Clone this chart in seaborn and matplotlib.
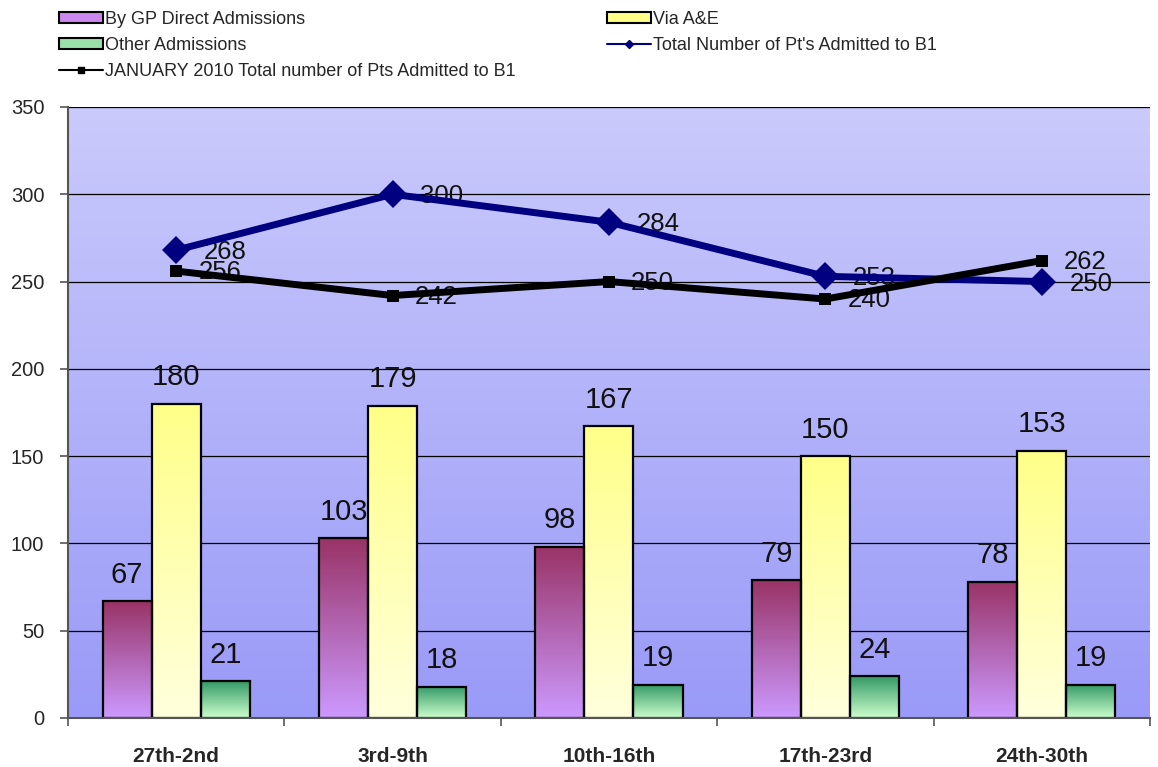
import numpy as np
import pandas as pd
import seaborn as sns
import matplotlib.pyplot as plt
from matplotlib.colors import LinearSegmentedColormap
from matplotlib.patches import Patch
from matplotlib.lines import Line2D

weeks = ["27th-2nd", "3rd-9th", "10th-16th", "17th-23rd", "24th-30th"]
gp_direct = [67, 103, 98, 79, 78]
via_ae = [180, 179, 167, 150, 153]
other = [21, 18, 19, 24, 19]
total_b1 = [268, 300, 284, 253, 250]
jan2010_b1 = [256, 242, 250, 240, 262]

kinds = ["By GP Direct Admissions", "Via A&E", "Other Admissions"]
# (top colour, bottom colour) of each bar gradient
grads = [("#993366", "#cc99ff"), ("#ffff88", "#ffffdd"), ("#339966", "#ccffcc")]

sns.set_theme(style="white")
plt.rcParams["font.family"] = ["Liberation Sans", "DejaVu Sans"]

df = pd.DataFrame({
    "week": weeks * 3,
    "count": gp_direct + via_ae + other,
    "kind": [k for k in kinds for _ in weeks],
})

fig = plt.figure(figsize=(11.58, 7.67), dpi=100)
ax = fig.add_axes([0.0587, 0.0639, 0.9343, 0.7966])

# background gradient
bg = LinearSegmentedColormap.from_list("bg", ["#9a9af8", "#cacafc"])
ax.imshow(np.linspace(0, 1, 256).reshape(-1, 1), cmap=bg, origin="lower",
          extent=[0, 1, 0, 1], transform=ax.transAxes, aspect="auto", zorder=0)

sns.barplot(df, x="week", y="count", hue="kind", hue_order=kinds, width=0.68,
            ax=ax, legend=False, saturation=1, edgecolor="black", linewidth=1.6,
            zorder=2)

for cont, (top, bot) in zip(ax.containers, grads):
    cm = LinearSegmentedColormap.from_list("g", [bot, top])
    for bar in cont:
        x0, w, h = bar.get_x(), bar.get_width(), bar.get_height()
        ax.imshow(np.linspace(0, 1, 256).reshape(-1, 1), cmap=cm, origin="lower",
                  extent=[x0, x0 + w, 0, h], aspect="auto", zorder=1.9)
        bar.set_facecolor("none")
    ax.bar_label(cont, padding=9, fontsize=21, color="#111111")

xs = np.arange(len(weeks))
sns.lineplot(x=xs, y=total_b1, color="#000080", lw=5, marker="D", markersize=14,
             markeredgewidth=0, ax=ax, zorder=5)
sns.lineplot(x=xs, y=jan2010_b1, color="black", lw=5, marker="s", markersize=9,
             markeredgewidth=0, ax=ax, zorder=6)
for i, v in enumerate(total_b1):
    ax.annotate(str(v), (i, v), xytext=(20, -1.5), textcoords="offset points",
                va="center", ha="left", fontsize=18.5, color="#111111", zorder=4)
for i, v in enumerate(jan2010_b1):
    ax.annotate(str(v), (i, v), xytext=(16, -1), textcoords="offset points",
                va="center", ha="left", fontsize=18.5, color="#111111", zorder=4)

ax.set_xlim(-0.5, len(weeks) - 0.5)
ax.set_ylim(0, 350)
ax.set_yticks(range(0, 351, 50))
ax.set_xticks(xs)
ax.set_xticklabels(weeks, fontweight="bold", fontsize=15)
ax.set_xticks(np.arange(-0.5, len(weeks)), minor=True)
ax.tick_params(axis="x", which="major", length=0, pad=21)
ax.tick_params(axis="x", which="minor", length=6, width=1.2, color="#555555",
               direction="out", bottom=True)
ax.tick_params(axis="y", length=6, width=1.2, color="#555555", direction="out",
               left=True, labelsize=14.5, pad=11)
ax.set_xlabel("")
ax.set_ylabel("")
ax.yaxis.grid(True, color="black", lw=0.9)
ax.set_axisbelow(True)
for s in ["top", "right"]:
    ax.spines[s].set_visible(False)
for s in ["left", "bottom"]:
    ax.spines[s].set_color("#555555")
    ax.spines[s].set_linewidth(1.5)

h1 = [Patch(facecolor="#cc88ee", edgecolor="black", lw=1.5, label=kinds[0]),
      Patch(facecolor="#99e0aa", edgecolor="black", lw=1.5, label=kinds[2]),
      Line2D([], [], color="black", lw=1.5, marker="s", markersize=5,
             label="JANUARY 2010 Total number of Pts Admitted to B1")]
h2 = [Patch(facecolor="#ffff88", edgecolor="black", lw=1.5, label=kinds[1]),
      Line2D([], [], color="#000080", lw=1.5, marker="D", markersize=4,
             label="Total Number of Pt's Admitted to B1")]
kw = dict(loc="upper left", frameon=False, fontsize=13, handlelength=2.4,
          handleheight=0.55, handletextpad=0.15, labelspacing=0.5, borderaxespad=0)
fig.legend(handles=h1, bbox_to_anchor=(52 / 1158, 0.995), **kw)
fig.legend(handles=h2, bbox_to_anchor=(600 / 1158, 0.995), **kw)

plt.savefig("out.png", dpi=100)
